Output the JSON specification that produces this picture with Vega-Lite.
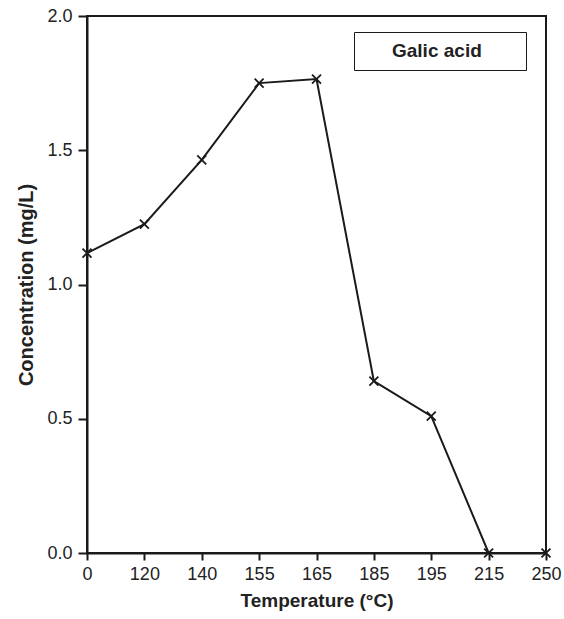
{
  "$schema": "https://vega.github.io/schema/vega-lite/v6.json",
  "width": 459,
  "height": 537,
  "autosize": {"type": "none"},
  "padding": {"left": 87, "top": 16, "right": 18, "bottom": 66},
  "background": "#ffffff",
  "config": {
    "view": {"stroke": "#1a1a1a", "strokeWidth": 2},
    "font": "Liberation Sans"
  },
  "data": {
    "values": [
      {"temp": "0", "conc": 1.117, "series": "Galic acid"},
      {"temp": "120", "conc": 1.225, "series": "Galic acid"},
      {"temp": "140", "conc": 1.464, "series": "Galic acid"},
      {"temp": "155", "conc": 1.75, "series": "Galic acid"},
      {"temp": "165", "conc": 1.765, "series": "Galic acid"},
      {"temp": "185", "conc": 0.64, "series": "Galic acid"},
      {"temp": "195", "conc": 0.51, "series": "Galic acid"},
      {"temp": "215", "conc": 0.0, "series": "Galic acid"},
      {"temp": "250", "conc": 0.0, "series": "Galic acid"}
    ]
  },
  "encoding": {
    "x": {
      "field": "temp",
      "type": "ordinal",
      "sort": null,
      "scale": {"type": "point", "padding": 0},
      "axis": {
        "title": "Temperature (°C)",
        "labelAngle": 0,
        "labelFontSize": 18,
        "labelColor": "#222",
        "labelPadding": 5,
        "titleFontSize": 19,
        "titleFontWeight": "bold",
        "titleColor": "#222",
        "titlePadding": 8,
        "domainColor": "#1a1a1a",
        "domainWidth": 2,
        "tickColor": "#1a1a1a",
        "tickWidth": 2,
        "tickSize": 7,
        "grid": false
      }
    },
    "y": {
      "field": "conc",
      "type": "quantitative",
      "scale": {"domain": [0, 2], "nice": false},
      "axis": {
        "title": "Concentration (mg/L)",
        "values": [0, 0.5, 1.0, 1.5, 2.0],
        "format": ".1f",
        "labelFontSize": 18,
        "labelColor": "#222",
        "labelPadding": 6,
        "titleFontSize": 20,
        "titleFontWeight": "bold",
        "titleColor": "#222",
        "titlePadding": 10,
        "domainColor": "#1a1a1a",
        "domainWidth": 2,
        "tickColor": "#1a1a1a",
        "tickWidth": 2,
        "tickSize": 9,
        "grid": false
      }
    }
  },
  "layer": [
    {
      "mark": {"type": "line", "color": "#1a1a1a", "strokeWidth": 2},
      "encoding": {
        "color": {
          "field": "series",
          "type": "nominal",
          "scale": {"range": ["#1a1a1a"]},
          "legend": {
            "orient": "none",
            "legendX": 267,
            "legendY": 16,
            "title": " ",
            "titleOrient": "right",
            "titlePadding": 35,
            "titleFontSize": 19,
            "strokeColor": "#1a1a1a",
            "fillColor": "#ffffff",
            "padding": 9,
            "symbolOpacity": 0,
            "symbolSize": 0,
            "symbolStrokeWidth": 0,
            "labelFontSize": 19,
            "labelFontWeight": "bold",
            "labelColor": "#222",
            "labelOffset": 10,
            "labelLimit": 300
          }
        }
      }
    },
    {
      "mark": {
        "type": "point",
        "shape": "M-1,-1L1,1M-1,1L1,-1",
        "size": 80,
        "stroke": "#1a1a1a",
        "strokeWidth": 1.8,
        "filled": false,
        "opacity": 1
      }
    }
  ]
}
